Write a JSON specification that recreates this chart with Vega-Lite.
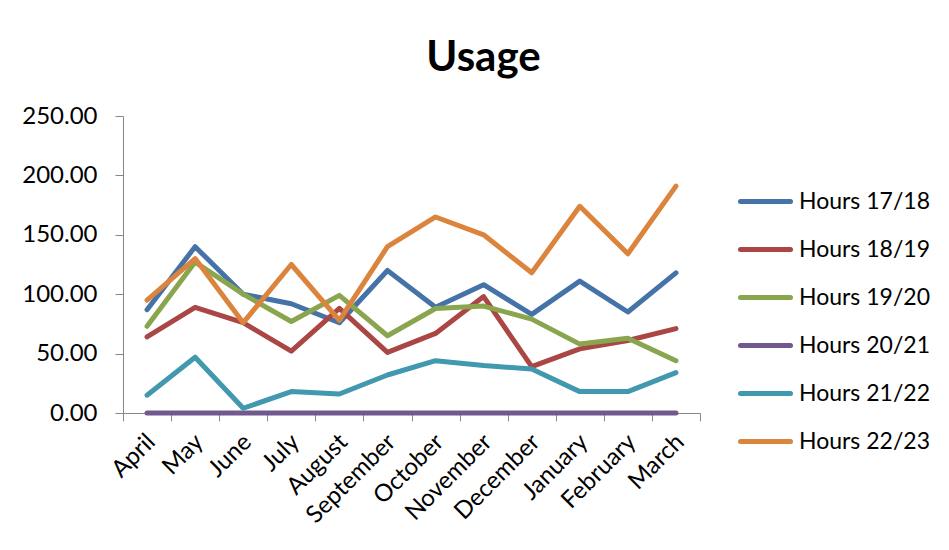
{
  "$schema": "https://vega.github.io/schema/vega-lite/v6.json",
  "width": 577,
  "height": 297,
  "autosize": {"type": "none"},
  "padding": {"left": 123, "top": 116, "right": 249, "bottom": 137},
  "background": "white",
  "title": {
    "text": "Usage",
    "font": "Lato",
    "fontSize": 42,
    "fontWeight": "bold",
    "color": "black",
    "anchor": "middle",
    "dx": 72,
    "offset": 24
  },
  "data": {
    "values": [
      {"month": "April", "series": "Hours 17/18", "hours": 87},
      {"month": "May", "series": "Hours 17/18", "hours": 140},
      {"month": "June", "series": "Hours 17/18", "hours": 100},
      {"month": "July", "series": "Hours 17/18", "hours": 92},
      {"month": "August", "series": "Hours 17/18", "hours": 76},
      {"month": "September", "series": "Hours 17/18", "hours": 120},
      {"month": "October", "series": "Hours 17/18", "hours": 89},
      {"month": "November", "series": "Hours 17/18", "hours": 108},
      {"month": "December", "series": "Hours 17/18", "hours": 83},
      {"month": "January", "series": "Hours 17/18", "hours": 111},
      {"month": "February", "series": "Hours 17/18", "hours": 85},
      {"month": "March", "series": "Hours 17/18", "hours": 118},

      {"month": "April", "series": "Hours 18/19", "hours": 64},
      {"month": "May", "series": "Hours 18/19", "hours": 89},
      {"month": "June", "series": "Hours 18/19", "hours": 76},
      {"month": "July", "series": "Hours 18/19", "hours": 52},
      {"month": "August", "series": "Hours 18/19", "hours": 88},
      {"month": "September", "series": "Hours 18/19", "hours": 51},
      {"month": "October", "series": "Hours 18/19", "hours": 67},
      {"month": "November", "series": "Hours 18/19", "hours": 98},
      {"month": "December", "series": "Hours 18/19", "hours": 39},
      {"month": "January", "series": "Hours 18/19", "hours": 54},
      {"month": "February", "series": "Hours 18/19", "hours": 61},
      {"month": "March", "series": "Hours 18/19", "hours": 71},

      {"month": "April", "series": "Hours 19/20", "hours": 73},
      {"month": "May", "series": "Hours 19/20", "hours": 127},
      {"month": "June", "series": "Hours 19/20", "hours": 100},
      {"month": "July", "series": "Hours 19/20", "hours": 77},
      {"month": "August", "series": "Hours 19/20", "hours": 99},
      {"month": "September", "series": "Hours 19/20", "hours": 65},
      {"month": "October", "series": "Hours 19/20", "hours": 88},
      {"month": "November", "series": "Hours 19/20", "hours": 90},
      {"month": "December", "series": "Hours 19/20", "hours": 79},
      {"month": "January", "series": "Hours 19/20", "hours": 58},
      {"month": "February", "series": "Hours 19/20", "hours": 63},
      {"month": "March", "series": "Hours 19/20", "hours": 44},

      {"month": "April", "series": "Hours 20/21", "hours": 0},
      {"month": "May", "series": "Hours 20/21", "hours": 0},
      {"month": "June", "series": "Hours 20/21", "hours": 0},
      {"month": "July", "series": "Hours 20/21", "hours": 0},
      {"month": "August", "series": "Hours 20/21", "hours": 0},
      {"month": "September", "series": "Hours 20/21", "hours": 0},
      {"month": "October", "series": "Hours 20/21", "hours": 0},
      {"month": "November", "series": "Hours 20/21", "hours": 0},
      {"month": "December", "series": "Hours 20/21", "hours": 0},
      {"month": "January", "series": "Hours 20/21", "hours": 0},
      {"month": "February", "series": "Hours 20/21", "hours": 0},
      {"month": "March", "series": "Hours 20/21", "hours": 0},

      {"month": "April", "series": "Hours 21/22", "hours": 15},
      {"month": "May", "series": "Hours 21/22", "hours": 47},
      {"month": "June", "series": "Hours 21/22", "hours": 4},
      {"month": "July", "series": "Hours 21/22", "hours": 18},
      {"month": "August", "series": "Hours 21/22", "hours": 16},
      {"month": "September", "series": "Hours 21/22", "hours": 32},
      {"month": "October", "series": "Hours 21/22", "hours": 44},
      {"month": "November", "series": "Hours 21/22", "hours": 40},
      {"month": "December", "series": "Hours 21/22", "hours": 37},
      {"month": "January", "series": "Hours 21/22", "hours": 18},
      {"month": "February", "series": "Hours 21/22", "hours": 18},
      {"month": "March", "series": "Hours 21/22", "hours": 34},

      {"month": "April", "series": "Hours 22/23", "hours": 95},
      {"month": "May", "series": "Hours 22/23", "hours": 130},
      {"month": "June", "series": "Hours 22/23", "hours": 76},
      {"month": "July", "series": "Hours 22/23", "hours": 125},
      {"month": "August", "series": "Hours 22/23", "hours": 78},
      {"month": "September", "series": "Hours 22/23", "hours": 140},
      {"month": "October", "series": "Hours 22/23", "hours": 165},
      {"month": "November", "series": "Hours 22/23", "hours": 150},
      {"month": "December", "series": "Hours 22/23", "hours": 118},
      {"month": "January", "series": "Hours 22/23", "hours": 174},
      {"month": "February", "series": "Hours 22/23", "hours": 134},
      {"month": "March", "series": "Hours 22/23", "hours": 191}
    ]
  },
  "mark": {"type": "line", "strokeWidth": 5, "strokeCap": "round", "strokeJoin": "round"},
  "encoding": {
    "x": {
      "field": "month",
      "type": "ordinal",
      "sort": ["April", "May", "June", "July", "August", "September", "October", "November", "December", "January", "February", "March"],
      "scale": {"type": "band", "paddingInner": 0, "paddingOuter": 0},
      "bandPosition": 0.5,
      "axis": {
        "title": null,
        "tickBand": "extent",
        "labelAngle": -45,
        "labelAlign": "right",
        "labelBaseline": "middle",
        "labelPadding": 17,
        "labelOffset": 4,
        "labelFont": "Lato",
        "labelFontSize": 24,
        "labelColor": "black",
        "domainColor": "#868686",
        "tickColor": "#868686",
        "tickSize": 8,
        "grid": false
      }
    },
    "y": {
      "field": "hours",
      "type": "quantitative",
      "scale": {"domain": [0, 250], "nice": false},
      "axis": {
        "title": null,
        "values": [0, 50, 100, 150, 200, 250],
        "format": ".2f",
        "labelFont": "Lato",
        "labelFontSize": 24,
        "labelColor": "black",
        "labelPadding": 18,
        "domainColor": "#868686",
        "tickColor": "#868686",
        "tickSize": 8,
        "grid": false
      }
    },
    "color": {
      "field": "series",
      "type": "nominal",
      "scale": {
        "domain": ["Hours 17/18", "Hours 18/19", "Hours 19/20", "Hours 20/21", "Hours 21/22", "Hours 22/23"],
        "range": ["#4572A7", "#AA4643", "#89A54E", "#71588F", "#4198AF", "#DB843D"]
      },
      "legend": {
        "title": null,
        "orient": "none",
        "legendX": 620,
        "legendY": 63,
        "padding": 0,
        "symbolType": "M-1.25,0H1.25",
        "symbolSize": 1600,
        "symbolStrokeWidth": 5,
        "labelOffset": 11,
        "rowPadding": 13,
        "labelFont": "Lato",
        "labelFontSize": 23,
        "labelColor": "black",
        "labelLimit": 300,
        "encode": {"symbols": {"update": {"strokeCap": {"value": "round"}}}}
      }
    }
  },
  "config": {"view": {"stroke": null}}
}
